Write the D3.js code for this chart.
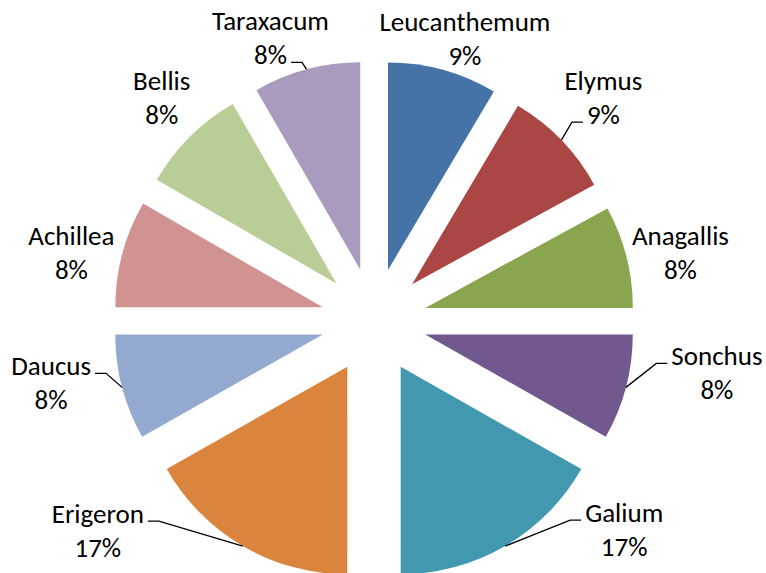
<!DOCTYPE html>
<html>
<head>
<meta charset="utf-8">
<script src="https://cdn.jsdelivr.net/npm/d3@7"></script>
<style>
  html, body { margin: 0; padding: 0; background: #fff; }
  svg { display: block; }
  text { font-family: Calibri, Carlito, Lato, sans-serif; font-size: 27px; fill: #000; }
</style>
</head>
<body>
<script>
// ---- data ----
const categories = ["Leucanthemum", "Elymus", "Anagallis", "Sonchus", "Galium",
                    "Erigeron", "Daucus", "Achillea", "Bellis", "Taraxacum"];
const values = [8.52, 8.52, 7.96, 8.2, 16.8, 16.8, 8.2, 8.33, 8.33, 8.34];
const colors = ["#4572A7", "#AA4643", "#89A54E", "#71588F", "#4198AF",
                "#DB843D", "#93A9CF", "#D19392", "#B9CD96", "#A99BBD"];

// ---- layout (label offsets from the slice's outer bisector point) ----
const labelOffsets = [[22, -39], [42, -50], [54, -12], [91, -22], [119, -24],
                      [-145, -23], [-71, -12], [-51, -9], [-28, -47], [-36, -39]];
// leader: [line index (0 name, 1 pct) or -1 for none, side of label: "left"/"right"]
const leaders = [[-1], [1, "left"], [-1], [0, "left"], [0, "left"],
                 [0, "right"], [0, "right"], [-1], [-1], [1, "right"]];

const W = 766, H = 573;
const cx = 374, cy = 321, R = 207.5, EX = 53, LINE = 34;

const data = categories.map((c, i) => ({ name: c, v: values[i], color: colors[i], i }));
const total = d3.sum(values);

const svg = d3.select("body").append("svg").attr("width", W).attr("height", H);
const g = svg.append("g").attr("transform", `translate(${cx},${cy})`);

const pie = d3.pie().sort(null).value(d => d.v);
const arcs = pie(data);
const arc = d3.arc().innerRadius(0).outerRadius(R);
const mid = d => (d.startAngle + d.endAngle) / 2;

g.selectAll("path.slice").data(arcs).join("path")
  .attr("class", "slice")
  .attr("d", arc)
  .attr("fill", d => d.data.color)
  .attr("transform", d => `translate(${EX * Math.sin(mid(d))},${-EX * Math.cos(mid(d))})`);

const fmt = v => Math.round(v / total * 100) + "%";

arcs.forEach((d, i) => {
  const a = mid(d);
  const px = (EX + R) * Math.sin(a), py = -(EX + R) * Math.cos(a);
  const lx = px + labelOffsets[i][0], ly = py + labelOffsets[i][1];
  const lines = [d.data.name, fmt(d.data.v)];
  const tnodes = lines.map((t, k) =>
    g.append("text").attr("x", lx).attr("y", ly + k * LINE)
      .attr("text-anchor", "middle").text(t));
  const ld = leaders[i];
  if (ld[0] >= 0) {
    const k = ld[0];
    const w = tnodes[k].node().getComputedTextLength();
    const ey = ly + k * LINE - 2;
    const ex = ld[1] === "left" ? lx - w / 2 - 4 : lx + w / 2 + 4;
    const bx = ld[1] === "left" ? ex - 11 : ex + 11;
    g.append("path")
      .attr("d", d3.line()([[px, py], [bx, ey], [ex, ey]]))
      .attr("fill", "none").attr("stroke", "#000").attr("stroke-width", 1.3);
  }
});
</script>
</body>
</html>
